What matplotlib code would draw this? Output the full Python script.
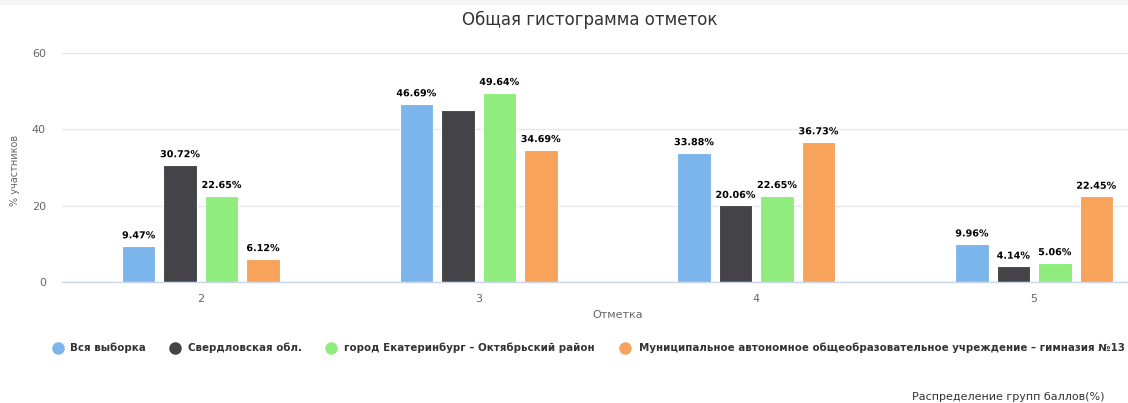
import matplotlib
matplotlib.use("Agg")
import matplotlib.pyplot as plt
import matplotlib.patheffects as pe
from matplotlib.lines import Line2D
import numpy as np

categories = ["2", "3", "4", "5"]
series_names = [
    "Вся выборка",
    "Свердловская обл.",
    "город Екатеринбург – Октябрьский район",
    "Муниципальное автономное общеобразовательное учреждение – гимназия №13",
]
vals_all = [9.47, 46.69, 33.88, 9.96]
vals_region = [30.72, 45.08, 20.06, 4.14]
vals_city = [22.65, 49.64, 22.65, 5.06]
vals_school = [6.12, 34.69, 36.73, 22.45]
show_label = [
    [True, True, True, True],
    [True, False, True, True],
    [True, True, True, True],
    [True, True, True, True],
]
colors = ["#7cb5ec", "#434348", "#90ed7d", "#f7a35c"]

plt.rcParams["font.family"] = ["DejaVu Sans"]

W, H = 1128, 403
fig = plt.figure(figsize=(W / 100, H / 100), dpi=100)
fig.patch.set_facecolor("white")
fig.patches.append(plt.Rectangle((0, 1 - 4 / H), 1, 4 / H, transform=fig.transFigure,
                                 color="#f5f5f5", zorder=0))

left_px, right_px, top_px, bot_px = 62, 1173, 53, 282
ax = fig.add_axes([left_px / W, 1 - bot_px / H, (right_px - left_px) / W, (bot_px - top_px) / H])
ax.set_xlim(-0.5, 3.5)
ax.set_ylim(0, 60)
ax.set_yticks([0, 20, 40, 60])
ax.set_xticks(range(len(categories)))
ax.set_xticklabels(categories)

for s in ["top", "right", "left"]:
    ax.spines[s].set_visible(False)
ax.spines["bottom"].set_color("#ccd6eb")
ax.spines["bottom"].set_linewidth(1)
ax.grid(axis="y", color="#e6e6e6", linewidth=1)
ax.set_axisbelow(True)
ax.tick_params(axis="both", length=0, labelsize=8, colors="#666666")
ax.tick_params(axis="x", pad=9)
ax.tick_params(axis="y", pad=11.5)

all_vals = [vals_all, vals_region, vals_city, vals_school]
x = np.arange(len(categories))
bw = 0.1206
step = 0.1493
for i, (vals, c) in enumerate(zip(all_vals, colors)):
    offs = (i - 1.5) * step
    bars = ax.bar(x + offs, vals, width=bw, color=c, edgecolor="white", linewidth=0.8, zorder=2)
    for j, (b, v) in enumerate(zip(bars, vals)):
        if show_label[i][j]:
            t = ax.annotate(f"{v:.2f}%", (b.get_x() + b.get_width() / 2, v),
                            xytext=(0, 4), textcoords="offset points",
                            ha="center", va="bottom", fontsize=6.9, fontweight="bold",
                            color="#000000", zorder=3)
            t.set_path_effects([pe.withStroke(linewidth=2, foreground="white")])

ax.set_xlabel("Отметка", fontsize=8, color="#666666", labelpad=4)
fig.text(15 / W, 1 - 170 / H, "% участников", rotation=90, ha="center", va="center",
         fontsize=7, color="#666666")

fig.text(590 / W, 1 - 20 / H, "Общая гистограмма отметок", ha="center", va="center",
         fontsize=12, color="#333333")

# legend (manual placement)
leg_y = 1 - 348 / H
marker_x = [57.7, 175, 331, 625]
text_x = [70, 188, 344, 639]
for c, name, mx, tx in zip(colors, series_names, marker_x, text_x):
    fig.add_artist(Line2D([mx / W], [leg_y], marker="o", linestyle="none", markersize=8,
                          markerfacecolor=c, markeredgecolor=c, transform=fig.transFigure))
    fig.text(tx / W, leg_y, name, ha="left", va="center", fontsize=7.35, fontweight="bold",
             color="#333333")

fig.text(1105 / W, 1 - 397 / H, "Распределение групп баллов(%)", ha="right", va="center",
         fontsize=8, color="#333333")

fig.savefig("out.png", dpi=100)
